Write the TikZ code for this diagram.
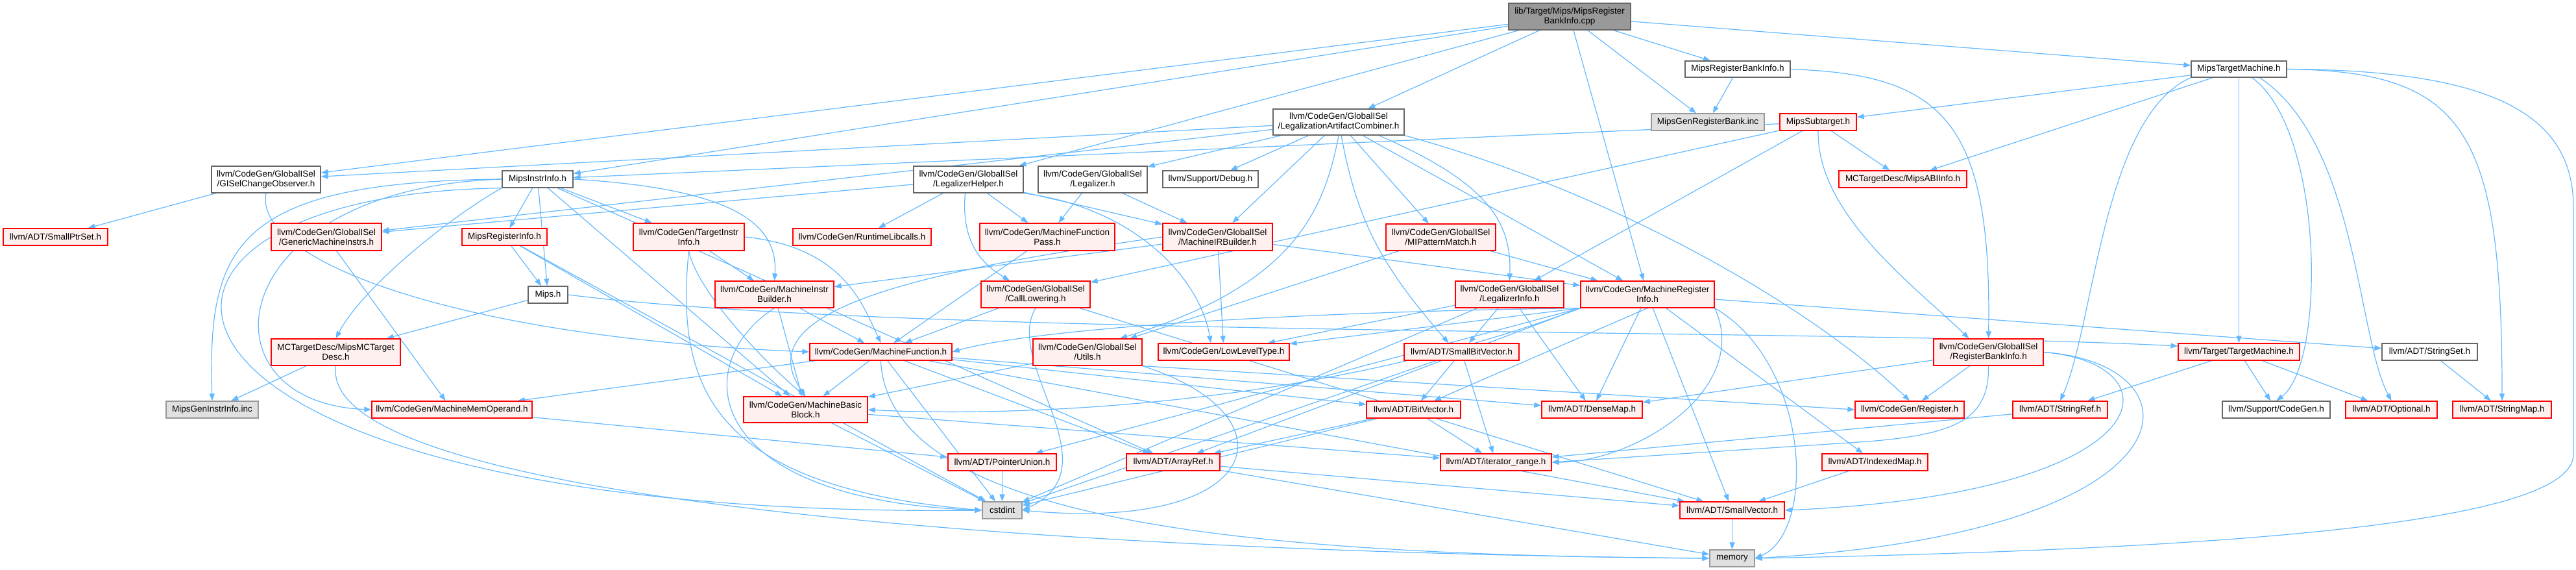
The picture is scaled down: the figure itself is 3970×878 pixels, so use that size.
\documentclass[tikz,border=0pt]{standalone}
\usepackage{fontspec}
\setmainfont{Liberation Sans}
\usetikzlibrary{arrows.meta}
\definecolor{edgec}{HTML}{63B8FF}
\definecolor{redline}{HTML}{FF0000}
\definecolor{redfill}{HTML}{FFF0F0}
\definecolor{grayline}{HTML}{666666}
\definecolor{extline}{HTML}{999999}
\definecolor{extfill}{HTML}{E0E0E0}
\definecolor{rootfill}{HTML}{999999}
\pgfdeclarelayer{bg}
\pgfsetlayers{bg,main}
\newcommand\mknode[7]{%
  \pgfmathsetmacro\mkw{#4-#2}\pgfmathsetmacro\mkh{#5-#3}%
  \pgfmathsetmacro\mkx{(#2+#4)/2}\pgfmathsetmacro\mky{(#3+#5)/2}%
  \node[#6, minimum width=\mkw pt, minimum height=\mkh pt] (#1) at (\mkx,\mky) {#7};}
\begin{document}
\begin{tikzpicture}[x=1pt,y=-1pt,
  box/.style={draw, line width=1.3pt, inner sep=0pt, align=center, font=\fontsize{13.5}{15}\selectfont},
  redbox/.style={box, draw=redline, fill=redfill},
  graybox/.style={box, draw=grayline, fill=white},
  extbox/.style={box, draw=extline, fill=extfill},
  rootbox/.style={box, draw=grayline, fill=rootfill},
  edge/.style={draw=edgec, line width=1.2pt, -{Triangle[length=11pt,width=8pt]}}]
\useasboundingbox (0,0) rectangle (3970,878);
% nodes
\mknode{root}{2325}{5}{2513}{46}{rootbox}{lib/Target/Mips/MipsRegister\\BankInfo.cpp}
\mknode{MRBI}{2597}{94}{2759}{119}{graybox}{MipsRegisterBankInfo.h}
\mknode{MGRB}{2545}{175}{2719}{201}{extbox}{MipsGenRegisterBank.inc}
\mknode{MTM}{3377}{94}{3524}{119}{graybox}{MipsTargetMachine.h}
\mknode{LAC}{1962}{168}{2164}{208}{graybox}{llvm/CodeGen/GlobalISel\\/LegalizationArtifactCombiner.h}
\mknode{GISel}{326}{256}{494}{297}{graybox}{llvm/CodeGen/GlobalISel\\/GISelChangeObserver.h}
\mknode{MII}{774}{263}{883}{289}{graybox}{MipsInstrInfo.h}
\mknode{LH}{1408}{256}{1577}{297}{graybox}{llvm/CodeGen/GlobalISel\\/LegalizerHelper.h}
\mknode{LEG}{1600}{256}{1768}{297}{graybox}{llvm/CodeGen/GlobalISel\\/Legalizer.h}
\mknode{DBG}{1792}{263}{1939}{289}{graybox}{llvm/Support/Debug.h}
\mknode{MST}{2743}{175}{2861}{201}{redbox}{MipsSubtarget.h}
\mknode{ABI}{2834}{263}{3031}{289}{redbox}{MCTargetDesc/MipsABIInfo.h}
\mknode{SPS}{5}{352}{166}{378}{redbox}{llvm/ADT/SmallPtrSet.h}
\mknode{GMI}{418}{344}{588}{386}{redbox}{llvm/CodeGen/GlobalISel\\/GenericMachineInstrs.h}
\mknode{MRIH}{712}{352}{843}{378}{redbox}{MipsRegisterInfo.h}
\mknode{TII}{976}{344}{1147}{386}{redbox}{llvm/CodeGen/TargetInstr\\Info.h}
\mknode{RTL}{1222}{352}{1435}{378}{redbox}{llvm/CodeGen/RuntimeLibcalls.h}
\mknode{MFP}{1510}{344}{1718}{386}{redbox}{llvm/CodeGen/MachineFunction\\Pass.h}
\mknode{MIRB}{1792}{344}{1961}{386}{redbox}{llvm/CodeGen/GlobalISel\\/MachineIRBuilder.h}
\mknode{MIPM}{2136}{345}{2305}{386}{redbox}{llvm/CodeGen/GlobalISel\\/MIPatternMatch.h}
\mknode{MIPS}{814}{441}{875}{467}{graybox}{Mips.h}
\mknode{MIB}{1102}{433}{1285}{474}{redbox}{llvm/CodeGen/MachineInstr\\Builder.h}
\mknode{CL}{1512}{433}{1680}{474}{redbox}{llvm/CodeGen/GlobalISel\\/CallLowering.h}
\mknode{LI}{2243}{433}{2410}{474}{redbox}{llvm/CodeGen/GlobalISel\\/LegalizerInfo.h}
\mknode{MRI}{2436}{433}{2642}{474}{redbox}{llvm/CodeGen/MachineRegister\\Info.h}
\mknode{MCTD}{418}{522}{617}{563}{redbox}{MCTargetDesc/MipsMCTarget\\Desc.h}
\mknode{MF}{1248}{529}{1467}{555}{redbox}{llvm/CodeGen/MachineFunction.h}
\mknode{UTL}{1592}{522}{1760}{563}{redbox}{llvm/CodeGen/GlobalISel\\/Utils.h}
\mknode{LLT}{1785}{529}{1987}{555}{redbox}{llvm/CodeGen/LowLevelType.h}
\mknode{SBV}{2164}{529}{2341}{555}{redbox}{llvm/ADT/SmallBitVector.h}
\mknode{RBI}{2980}{522}{3149}{563}{redbox}{llvm/CodeGen/GlobalISel\\/RegisterBankInfo.h}
\mknode{TM}{3357}{529}{3544}{555}{redbox}{llvm/Target/TargetMachine.h}
\mknode{SSET}{3671}{529}{3818}{555}{graybox}{llvm/ADT/StringSet.h}
\mknode{MGII}{256}{618}{398}{644}{extbox}{MipsGenInstrInfo.inc}
\mknode{MMO}{573}{618}{820}{644}{redbox}{llvm/CodeGen/MachineMemOperand.h}
\mknode{MBB}{1146}{611}{1337}{651}{redbox}{llvm/CodeGen/MachineBasic\\Block.h}
\mknode{BV}{2106}{618}{2251}{644}{redbox}{llvm/ADT/BitVector.h}
\mknode{DENSE}{2376}{618}{2531}{644}{redbox}{llvm/ADT/DenseMap.h}
\mknode{REG}{2859}{618}{3027}{644}{redbox}{llvm/CodeGen/Register.h}
\mknode{SREF}{3102}{618}{3248}{644}{redbox}{llvm/ADT/StringRef.h}
\mknode{SCG}{3425}{618}{3591}{644}{graybox}{llvm/Support/CodeGen.h}
\mknode{OPT}{3615}{618}{3756}{644}{redbox}{llvm/ADT/Optional.h}
\mknode{SMAP}{3780}{618}{3932}{644}{redbox}{llvm/ADT/StringMap.h}
\mknode{PU}{1461}{699}{1628}{725}{redbox}{llvm/ADT/PointerUnion.h}
\mknode{AR}{1736}{699}{1880}{725}{redbox}{llvm/ADT/ArrayRef.h}
\mknode{IR}{2220}{699}{2391}{725}{redbox}{llvm/ADT/iterator\_range.h}
\mknode{IDX}{2808}{699}{2971}{725}{redbox}{llvm/ADT/IndexedMap.h}
\mknode{CSTD}{1514}{773}{1575}{799}{extbox}{cstdint}
\mknode{SVEC}{2589}{773}{2750}{799}{redbox}{llvm/ADT/SmallVector.h}
\mknode{MEM}{2635}{847}{2704}{873}{extbox}{memory}
% edges
\begin{pgfonlayer}{bg}
\foreach \s/\t in {root/GISel, root/MII, root/LAC, root/LH, root/MRI, root/MGRB, root/MRBI, root/MTM,
  MRBI/MGRB, MTM/MST, MTM/ABI, MTM/TM,
  MST/MII, MST/CL, MST/LI, MST/ABI,
  LAC/GISel, LAC/GMI, LAC/LEG, LAC/DBG, LAC/MIRB, LAC/MIPM, LAC/MRI,
  GISel/SPS, LH/GMI, LH/RTL, LH/MFP, LH/MIRB,
  LEG/MFP, LEG/MIRB, MIRB/MIB, MIRB/MRI, MIRB/LLT, MFP/MF,
  CL/MF, CL/SVEC, UTL/MBB, MIPM/UTL, MIPM/MRI,
  LI/SBV, LI/DENSE, LI/LLT, LI/CSTD,
  MRI/DENSE, MRI/SVEC, MRI/IDX, MRI/SSET,
  RBI/REG, RBI/DENSE, SREF/IR, TM/SREF, TM/SCG, TM/OPT, SSET/SMAP, IDX/SVEC,
  SBV/BV, SBV/IR, SBV/CSTD, BV/AR, BV/IR, BV/CSTD, SVEC/MEM, AR/SVEC, AR/MEM,
  PU/CSTD, MMO/PU, MIB/MBB, MIB/MF,
  MF/MMO, MF/MBB, MF/AR, MF/DENSE, MF/SVEC, MF/CSTD, MF/BV, MBB/IR, MBB/CSTD,
  TII/MIB,
  MII/MIPS, MII/MRIH, MII/AR, MII/MBB, MII/TII,
  MRIH/MIPS, MRIH/MBB, MRIH/CSTD, MIPS/MCTD, MCTD/MGII, GMI/MMO}
  \draw[edge] (\s) -- (\t);
\draw[edge] (MRI.south) -- (BV);
\draw[edge] (MRI.south west) -- (LLT);
\draw[edge] (MRI.south west) -- (AR);
\draw[edge] (MRI.south west) -- (PU);
\draw[edge] (UTL.south east) -- (REG.west);
% curved connectors
\draw[edge] ([xshift=20pt]MTM.south) .. controls (3582,200) and (3585,560) .. (SCG.north);
\draw[edge] ([xshift=32pt]MTM.south) .. controls (3633,220) and (3633,520) .. (OPT.north);
\draw[edge] (MTM.east) .. controls (3800,110) and (3856,200) .. (SMAP.north);
\draw[edge] (MTM.south west) .. controls (3240,180) and (3228,500) .. (SREF.north);
\draw[edge] (MTM.east) .. controls (3850,108) and (3966,180) .. (3966,320) -- (3966,700) .. controls (3966,800) and (3500,845) .. (MEM.east);
\draw[edge] (MRBI.east) .. controls (2990,115) and (3070,180) .. (RBI.north);
\draw[edge] (MST.south) .. controls (2800,330) and (2950,440) .. ([xshift=-30pt]RBI.north);
\draw[edge] (LAC.south east) .. controls (2500,300) and (2800,480) .. (REG.north);
\draw[edge] ([xshift=62pt]LAC.south) .. controls (2290,280) and (2330,340) .. (LI.north);
\draw[edge] ([xshift=4pt]LAC.south) .. controls (2090,330) and (2120,400) .. ([xshift=-20pt]SBV.north);
\draw[edge] (LAC.south) .. controls (2040,330) and (1990,440) .. ([xshift=50pt]UTL.north);
\draw[edge] (MIPS.east) .. controls (1400,520) and (2800,505) .. ([yshift=9pt]TM.west);
\draw[edge] ([xshift=110pt]MF.south west) .. controls (1370,800) and (1900,855) .. (MEM.west);
\draw[edge] (MCTD.south) .. controls (490,770) and (1600,850) .. (MEM.west);
\draw[edge] (RBI.east) .. controls (3400,560) and (3400,820) .. (MEM.east);
\draw[edge] (RBI.east) .. controls (3360,560) and (3340,760) .. (SVEC.east);
\draw[edge] (RBI.south) .. controls (3066,650) and (3010,672) .. (2850,682) .. controls (2650,695) and (2500,705) .. (IR.east);
\draw[edge] (MRI.south east) .. controls (2700,600) and (2520,712) .. (IR.east);
\draw[edge] (MRI.south east) .. controls (2790,560) and (2800,820) .. (MEM.east);
\draw[edge] (MRI.south west) .. controls (2000,480) and (1600,505) .. (MF.east);
\draw[edge] (MRI.south west) .. controls (2000,640) and (1500,640) .. (MBB.east);
\draw[edge] (MII.south west) .. controls (80,300) and (150,800) .. (CSTD.west);
\draw[edge] (MII.west) .. controls (360,280) and (320,380) .. (MGII.north);
\draw[edge] (MII.south west) .. controls (700,330) and (560,440) .. (MCTD.north);
\draw[edge] (MII.west) .. controls (340,290) and (300,620) .. (MMO.west);
\draw[edge] (MII.east) .. controls (1120,290) and (1200,340) .. (MIB.north);
\draw[edge] (TII.south) .. controls (1075,450) and (1180,560) .. (MBB.north);
\draw[edge] (TII.east) .. controls (1300,380) and (1330,470) .. (MF.north);
\draw[edge] (TII.south) .. controls (1040,600) and (1100,750) .. (CSTD.west);
\draw[edge] (MIB.south) .. controls (1060,560) and (1080,770) .. (CSTD.west);
\draw[edge] (UTL.south east) .. controls (2000,640) and (1950,820) .. (CSTD.east);
\draw[edge] (CL.south) .. controls (1545,560) and (1720,720) .. (CSTD.east);
\draw[edge] (GISel.south) .. controls (390,400) and (700,520) .. (MF.west);
\draw[edge] (LH.south east) .. controls (1750,320) and (1850,430) .. ([xshift=-20pt]LLT.north);
\draw[edge] ([xshift=-5pt]LH.south) .. controls (1480,380) and (1520,410) .. ([xshift=-40pt]CL.north);
\draw[edge] (MIRB.west) .. controls (1400,420) and (1150,480) .. (MBB.north);
\end{pgfonlayer}
\end{tikzpicture}
\end{document}
